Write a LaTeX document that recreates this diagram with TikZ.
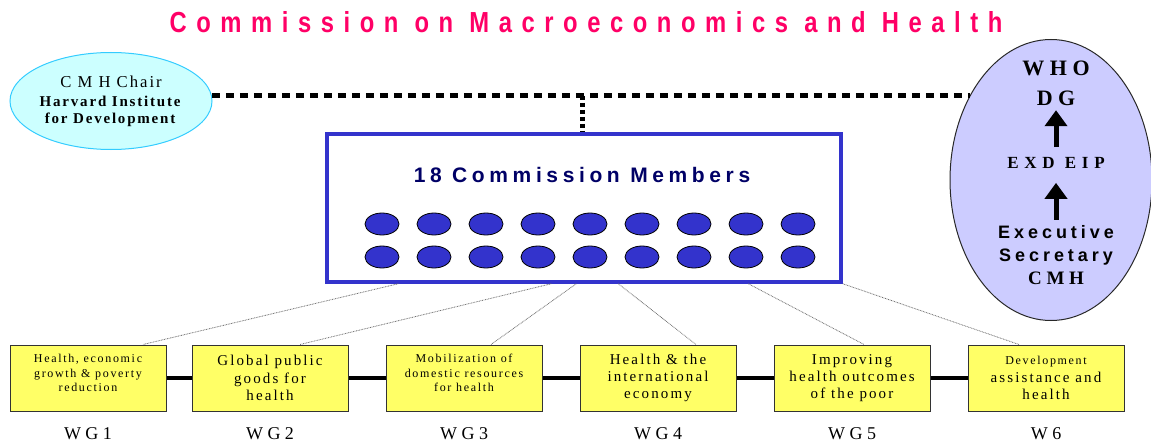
\documentclass[tikz,border=0pt]{standalone}
\usepackage{fontspec}
\setmainfont{Liberation Serif}
\newfontfamily\titlefont[FakeStretch=0.82,LetterSpace=33]{Liberation Sans}
\newfontfamily\widesans[LetterSpace=22]{Liberation Sans}
\newfontfamily\wideserif[LetterSpace=12]{Liberation Serif}
\newfontfamily\boxserif[LetterSpace=14]{Liberation Serif}
\newfontfamily\trackserif[LetterSpace=34]{Liberation Serif}
\usetikzlibrary{positioning,shapes.geometric,arrows.meta,calc}

\begin{document}
\begin{tikzpicture}[x=0.75pt,y=0.75pt,yscale=-1,xscale=1,
    wgbox/.style={draw={rgb, 255:red, 51; green, 51; blue, 51}, fill={rgb, 255:red, 255; green, 255; blue, 102}, line width=0.75pt, minimum width=117pt, minimum height=49.5pt, inner sep=0pt, align=center, font=\boxserif},
    wglabel/.style={inner sep=0pt, font=\fontsize{13.5pt}{16pt}\selectfont},
    member/.style={ellipse, draw=black, line width=0.6pt, fill={rgb, 255:red, 51; green, 51; blue, 204}, minimum width=25.5pt, minimum height=16.5pt, inner sep=0pt},
    bigdots/.style={line width=3.75pt, dash pattern={on 6pt off 4.5pt}},
    smalldots/.style={line width=3.75pt, dash pattern={on 3pt off 2.25pt}},
    thindots/.style={draw={rgb, 255:red, 110; green, 110; blue, 110}, line width=0.6pt, dash pattern={on 0.6pt off 0.6pt}},
    link/.style={line width=3pt},
    uparrow/.style={line width=3.75pt, -{Triangle[width=16.5pt,length=12pt]}}
  ]
\useasboundingbox (0,0) rectangle (1151,442);

%Title
\node[inner sep=0pt, text={rgb, 255:red, 255; green, 0; blue, 102}, font=\titlefont\bfseries\fontsize{21.75pt}{26pt}\selectfont] (title) at (586,22) {Commission on Macroeconomics and Health};

%Shape: Ellipse
\node[ellipse, draw={rgb, 255:red, 51; green, 204; blue, 255}, fill={rgb, 255:red, 204; green, 255; blue, 255}, line width=0.75pt, minimum width=151.5pt, minimum height=72.75pt, inner sep=0pt, align=center, font=\wideserif\fontsize{11.25pt}{12.75pt}\selectfont] (chair) at (111,101) {{\fontsize{12.5pt}{14pt}\selectfont C M H Chair}\\[1.5pt]\textbf{Harvard Institute}\\\textbf{for Development}};

%Shape: Ellipse
\node[ellipse, draw={rgb, 255:red, 40; green, 40; blue, 40}, fill={rgb, 255:red, 204; green, 204; blue, 255}, line width=0.75pt, minimum width=151.5pt, minimum height=210.75pt, inner sep=0pt] (who) at (1051,180) {};
\node[inner sep=0pt, font=\bfseries\fontsize{16.5pt}{19pt}\selectfont] (whoname) at (1056,68) {W H O};
\node[inner sep=0pt, font=\bfseries\fontsize{16.5pt}{19pt}\selectfont] (dg) at (1056,98) {D G};
\node[inner sep=0pt, font=\trackserif\bfseries\fontsize{12.75pt}{15pt}\selectfont] (exd) at (1056,163) {EXD EIP};
\node[inner sep=0pt, align=center, font=\widesans\bfseries\fontsize{13.5pt}{17.25pt}\selectfont] (secretary) at (1056,255) {Executive\\Secretary\\{\rmfamily\fontsize{14.25pt}{17.25pt}\selectfont C M H}};
\draw[uparrow, shorten <=7.5pt, shorten >=3.4pt] (exd.north) -- (dg.south);
\draw[uparrow, shorten <=4.1pt, shorten >=10.5pt] (secretary.north) -- (exd.south);

%Shape: Rectangle
\node[draw={rgb, 255:red, 51; green, 51; blue, 204}, line width=2.6pt, minimum width=385.5pt, minimum height=111pt] (members) at (584,208) {};
\node[inner sep=0pt, text={rgb, 255:red, 0; green, 0; blue, 102}, font=\widesans\bfseries\fontsize{15.75pt}{18pt}\selectfont] (memtitle) at (582,175) {18 Commission Members};
\foreach \i in {0,...,8} {
  \node[member] (top\i) at (382+52*\i,224) {};
  \node[member] (bot\i) at (382+52*\i,257) {};
}

%Straight Lines
\draw[bigdots] (chair.3) -- (who.134 |- chair.3);
\coordinate (tee) at (582,96);
\draw[smalldots] (tee) -- (tee |- members.north);

%Shape: Rectangle
\node[wgbox, font=\boxserif\fontsize{9pt}{10.9pt}\selectfont] (wg1) at (88,378) {Health, economic\\growth \& poverty\\reduction\\[-3.4pt]\mbox{}};
\node[wgbox, font=\boxserif\fontsize{11.25pt}{13pt}\selectfont] (wg2) at (270,378) {Global public\\goods for\\health};
\node[wgbox, right=27.75pt of wg2, font=\boxserif\fontsize{9pt}{10.9pt}\selectfont] (wg3) {Mobilization of\\domestic resources\\for health\\[-3.4pt]\mbox{}};
\node[wgbox, right=27.75pt of wg3, font=\boxserif\fontsize{11.25pt}{13pt}\selectfont] (wg4) {Health \& the\\international\\economy};
\node[wgbox, right=27.75pt of wg4, font=\boxserif\fontsize{11.25pt}{13pt}\selectfont] (wg5) {Improving\\health outcomes\\of the poor};
\node[wgbox, right=27.75pt of wg5, font=\boxserif\fontsize{11.25pt}{13pt}\selectfont] (wg6) {{\fontsize{9pt}{11pt}\selectfont Development}\\assistance and\\health};

\node[wglabel, below=12pt of wg1] (lab1) {W G 1};
\node[wglabel, below=12pt of wg2] (lab2) {W G 2};
\node[wglabel, below=12pt of wg3] (lab3) {W G 3};
\node[wglabel, below=12pt of wg4] (lab4) {W G 4};
\node[wglabel, below=12pt of wg5] (lab5) {W G 5};
\node[wglabel, below=12pt of wg6] (lab6) {W 6};

%Straight Lines
\draw[link] (wg1.east) -- (wg2.west);
\draw[link] (wg2.east) -- (wg3.west);
\draw[link] (wg3.east) -- (wg4.west);
\draw[link] (wg4.east) -- (wg5.west);
\draw[link] (wg5.east) -- (wg6.west);

%Straight Lines
\draw[thindots] ($(members.south west)+(73,0)$) -- ($(wg1.north)+(55,0)$);
\draw[thindots] ($(members.south west)+(226,0)$) -- ($(wg2.north)+(30,0)$);
\draw[thindots] ($(members.south west)+(251,0)$) -- ($(wg3.north)+(27,0)$);
\draw[thindots] ($(members.south west)+(293,0)$) -- ($(wg4.north)+(38,0)$);
\draw[thindots] ($(members.south west)+(423,0)$) -- ($(wg5.north)+(12,0)$);
\draw[thindots] (members.south east) -- ($(wg6.north)+(-27,0)$);
\end{tikzpicture}
\end{document}
